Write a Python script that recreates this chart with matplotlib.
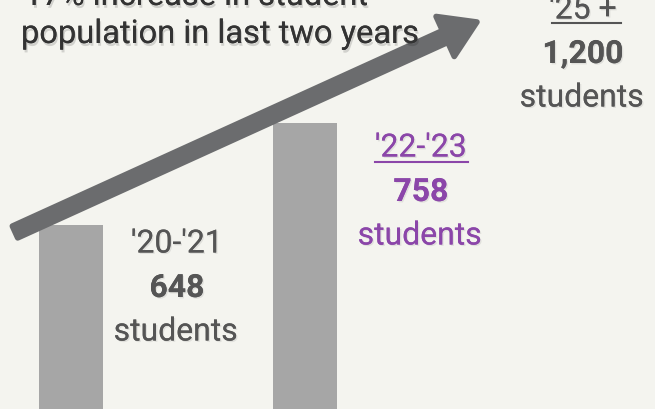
import matplotlib
matplotlib.use("Agg")
import matplotlib.pyplot as plt
import matplotlib.patheffects as pe
from matplotlib.patches import FancyArrow

# data
years = ["'20-'21", "'22-'23", "'25 +"]
students = [648, 758, 1200]
bar_years = years[:2]
bar_values = students[:2]
headline = ["17% increase in student", "population in last two years"]

BG = "#f4f4ef"
BAR = "#a6a6a6"
ARROW = "#6b6c6e"
DARK = "#555555"
PURPLE = "#8b46a9"

plt.rcParams["font.family"] = ["Roboto", "DejaVu Sans"]

fig = plt.figure(figsize=(6.55, 4.09), dpi=100, facecolor=BG)
ax = fig.add_axes([0, 0, 1, 1])
ax.set_facecolor(BG)
ax.bar(range(len(bar_values)), bar_values, width=0.274, color=BAR, zorder=2)
ax.set_xlim(-0.303, 2.496)
ax.set_ylim(450, 891)
ax.set_axis_off()

# overlay in pixel units for arrow and labels
ov = fig.add_axes([0, 0, 1, 1])
ov.set_xlim(0, 655)
ov.set_ylim(409, 0)
ov.set_axis_off()
ov.patch.set_alpha(0)

x0, y0, x1, y1 = 15, 232, 477, 22
ov.add_patch(FancyArrow(x0, y0, x1 - x0, y1 - y0, width=13, head_width=44,
                        head_length=35, length_includes_head=True,
                        facecolor=ARROW, edgecolor=ARROW, lw=4,
                        joinstyle="round", zorder=3))

shadow = [pe.withSimplePatchShadow(offset=(1, -2), shadow_rgbFace="black", alpha=0.14),
          pe.Normal()]
ov.text(24, 5, headline[0], fontsize=23.5, color="#333333", ha="left",
        va="baseline", path_effects=shadow, zorder=4)
ov.text(21, 43, headline[1], fontsize=23.5, color="#333333", ha="left",
        va="baseline", path_effects=shadow, zorder=4)

label_pos = [(177, 244), (421, 148), (583, 10)]
colors = [DARK, PURPLE, DARK]
soft = [pe.withSimplePatchShadow(offset=(1, -1), shadow_rgbFace="black", alpha=0.08),
        pe.Normal()]
for i, (yr, n) in enumerate(zip(years, students)):
    cx, cy = label_pos[i]
    c = colors[i]
    ov.text(cx, cy, yr, fontsize=23, color=c, ha="center", va="center",
            path_effects=soft, zorder=4)
    ov.text(cx, cy + 44, f"{n:,}", fontsize=23, color=c, ha="center",
            va="center", fontweight="bold", path_effects=soft, zorder=4)
    ov.text(cx - 1, cy + 88, "students", fontsize=23, color=c, ha="center",
            va="center", path_effects=soft, zorder=4)

# underlines for the last two year labels
ov.plot([375, 468], [162, 162], color=PURPLE, lw=1.5, zorder=4)
ov.plot([552, 621], [23, 23], color=DARK, lw=1.5, zorder=4)

fig.savefig("out.png", dpi=100, facecolor=BG)
